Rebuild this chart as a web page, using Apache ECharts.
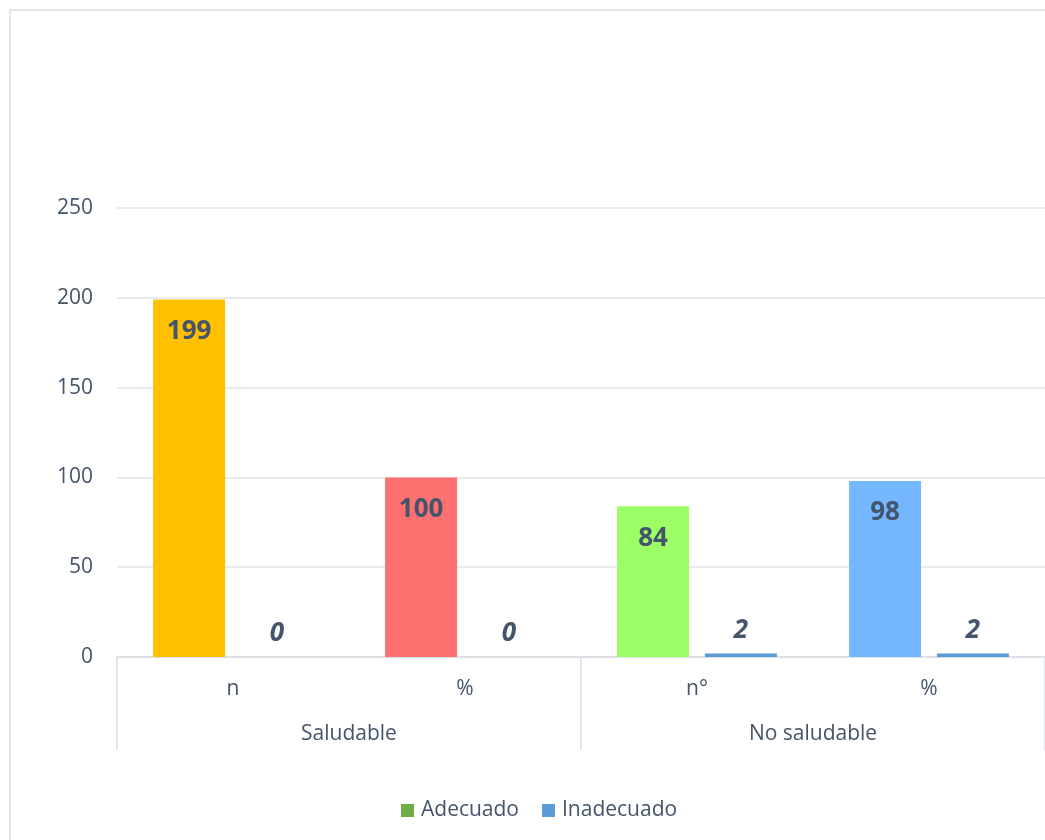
<!DOCTYPE html>
<html>
<head>
<meta charset="utf-8">
<script src="https://cdn.jsdelivr.net/npm/echarts@6/dist/echarts.min.js"></script>
<style>html,body{margin:0;padding:0;background:#fff}#c{width:1045px;height:840px}</style>
</head>
<body>
<div id="c"></div>
<script>
const categories = ['n', '%', 'n°', '%'];
const groups = ['Saludable', 'No saludable'];
const adecuado = [199, 100, 84, 98];
const inadecuado = [0, 0, 2, 2];
const adecuadoColors = ['#FFC000', '#FF7171', '#9CFF66', '#74B7FF'];
const yTicks = { min: 0, max: 250, interval: 50 };

const txt = '#44546A';
const font = 'Open Sans';
const chart = echarts.init(document.getElementById('c'));
chart.setOption({
  animation: false,
  textStyle: { fontFamily: font },
  graphic: [{
    type: 'rect', shape: { x: 10, y: 10, width: 1100, height: 900 },
    style: { fill: 'none', stroke: '#E3E7ED', lineWidth: 2 }, silent: true
  }],
  grid: { left: 117, right: 0, top: 208, bottom: 183, containLabel: false },
  legend: {
    top: 795, left: 396, itemWidth: 13, itemHeight: 13, itemGap: 23,
    icon: 'rect',
    textStyle: { color: txt, fontSize: 21, fontFamily: font, padding: [0, 0, 0, 2] },
    data: ['Adecuado', 'Inadecuado']
  },
  xAxis: [{
    type: 'category', data: categories, position: 'bottom',
    axisLine: { show: true, lineStyle: { color: '#D9DEE5', width: 1.5 } },
    axisTick: { show: false },
    axisLabel: { color: txt, fontSize: 21, fontFamily: font, margin: 22 }
  }, {
    type: 'category', data: groups, position: 'bottom',
    axisLine: { show: false },
    axisTick: { show: true, length: 93, lineStyle: { color: '#D9DEE5', width: 1.5 } },
    axisLabel: { color: txt, fontSize: 21, fontFamily: font, margin: 67 }
  }],
  yAxis: {
    type: 'value', min: yTicks.min, max: yTicks.max, interval: yTicks.interval,
    axisLine: { show: false }, axisTick: { show: false },
    splitLine: { lineStyle: { color: '#E1E5EA', width: 1.5 } },
    axisLabel: { color: txt, fontSize: 21, fontFamily: font, margin: 24 }
  },
  series: [{
    name: 'Adecuado', type: 'bar', barWidth: 72, barGap: '22%',
    itemStyle: { color: '#70AD47' },
    data: adecuado.map((v, i) => ({ value: v, itemStyle: { color: adecuadoColors[i] } })),
    label: { show: true, position: 'insideTop', distance: 19, color: txt,
             fontSize: 26, fontWeight: 'bold', fontFamily: font }
  }, {
    name: 'Inadecuado', type: 'bar', barWidth: 72,
    itemStyle: { color: '#5B9BD5' },
    data: inadecuado,
    label: { show: true, position: 'top', distance: 10, color: txt,
             fontSize: 26, fontWeight: 'bold', fontStyle: 'italic', fontFamily: font }
  }]
});
</script>
</body>
</html>
